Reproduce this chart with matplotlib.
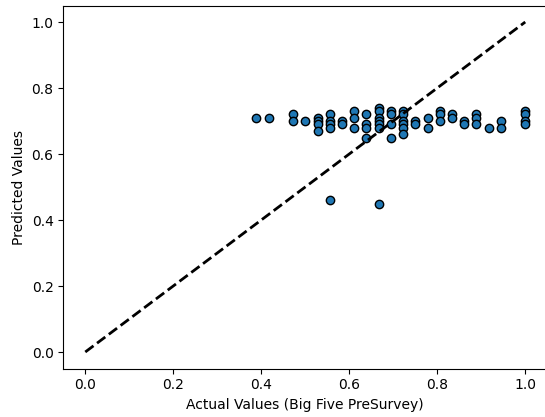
import matplotlib
matplotlib.use("Agg")
import matplotlib.pyplot as plt

actual = [0.389, 0.417,
          0.472, 0.472,
          0.500,
          0.528, 0.528, 0.528, 0.528,
          0.556, 0.556, 0.556, 0.556, 0.556,
          0.583, 0.583,
          0.611, 0.611, 0.611,
          0.639, 0.639, 0.639, 0.639,
          0.667, 0.667, 0.667, 0.667, 0.667, 0.667, 0.667,
          0.694, 0.694, 0.694, 0.694,
          0.722, 0.722, 0.722, 0.722, 0.722, 0.722,
          0.750, 0.750,
          0.778, 0.778,
          0.806, 0.806, 0.806,
          0.833, 0.833,
          0.861, 0.861,
          0.889, 0.889, 0.889,
          0.917,
          0.944, 0.944,
          1.000, 1.000, 1.000, 1.000]

predicted = [0.71, 0.71,
             0.72, 0.70,
             0.70,
             0.71, 0.70, 0.69, 0.67,
             0.72, 0.70, 0.69, 0.68, 0.46,
             0.70, 0.69,
             0.73, 0.71, 0.68,
             0.72, 0.69, 0.68, 0.65,
             0.74, 0.73, 0.71, 0.70, 0.69, 0.68, 0.45,
             0.73, 0.72, 0.69, 0.65,
             0.73, 0.72, 0.70, 0.69, 0.68, 0.66,
             0.70, 0.69,
             0.71, 0.68,
             0.73, 0.72, 0.70,
             0.72, 0.71,
             0.70, 0.69,
             0.72, 0.71, 0.69,
             0.68,
             0.70, 0.68,
             0.73, 0.72, 0.70, 0.69]

diag = [0.0, 1.0]

fig = plt.figure(figsize=(5.45, 4.17), dpi=100)
ax = fig.add_axes([0.1161, 0.1163, 0.888, 0.8705])
ax.scatter(actual, predicted, color="#1f77b4", edgecolors="black", s=36, linewidths=1, zorder=2)
ax.plot(diag, diag, "k--", lw=2, zorder=3)
ax.set_xlim(-0.05, 1.05)
ax.set_ylim(-0.05, 1.05)
ax.set_xticks([0.0, 0.2, 0.4, 0.6, 0.8, 1.0])
ax.set_yticks([0.0, 0.2, 0.4, 0.6, 0.8, 1.0])
ax.set_xlabel("Actual Values (Big Five PreSurvey)")
ax.set_ylabel("Predicted Values")
fig.savefig("out.png", dpi=100)
